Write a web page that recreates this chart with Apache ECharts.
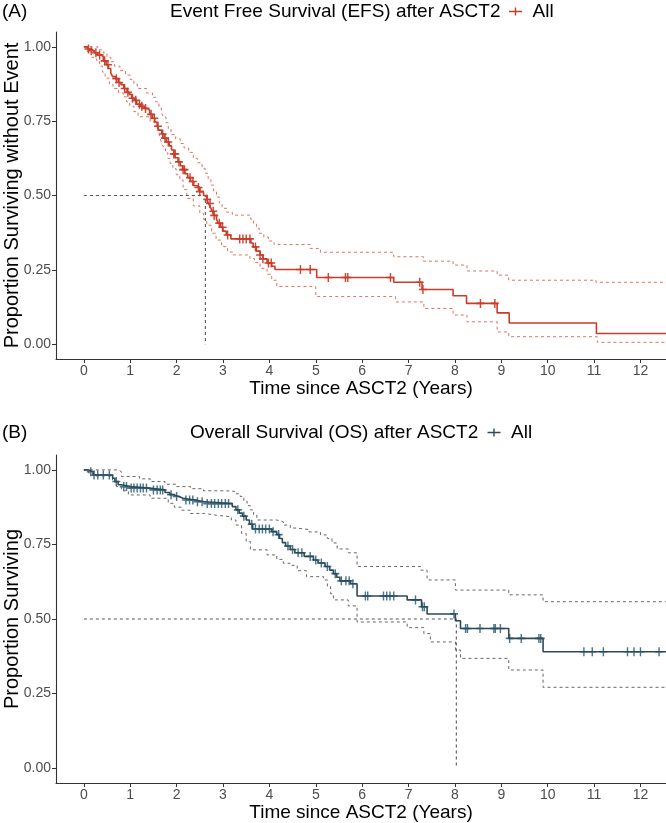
<!DOCTYPE html>
<html><head><meta charset="utf-8">
<script src="https://cdn.jsdelivr.net/npm/echarts@6/dist/echarts.min.js"></script>
<style>html,body{margin:0;padding:0;background:#fff}#c{width:666px;height:823px}</style>
</head><body><div id="c"></div>
<script>
const xTicks = [0,1,2,3,4,5,6,7,8,9,10,11,12];
const yTicks = [0,0.25,0.5,0.75,1];

// EFS (A)
const efsTime = [0,0.08,0.15,0.22,0.30,0.36,0.42,0.48,0.53,0.58,0.62,0.68,0.74,0.80,0.86,0.93,0.98,1.03,1.09,1.14,1.22,1.30,1.36,1.42,1.48,1.53,1.58,1.62,1.68,1.73,1.78,1.84,1.89,1.94,1.98,2.03,2.08,2.13,2.18,2.24,2.30,2.37,2.44,2.50,2.58,2.65,2.69,2.73,2.77,2.81,2.86,2.90,2.95,3.00,3.07,3.17,3.60,3.65,3.72,3.80,3.86,3.95,4.05,4.12,5.02,6.68,7.29,7.96,8.25,8.91,9.17,11.05,12.55];
const efsSurv = [1.000,0.993,0.987,0.980,0.973,0.967,0.953,0.940,0.927,0.913,0.900,0.893,0.880,0.873,0.860,0.847,0.840,0.827,0.820,0.807,0.800,0.793,0.787,0.773,0.760,0.747,0.733,0.720,0.707,0.693,0.680,0.667,0.653,0.640,0.627,0.613,0.600,0.587,0.573,0.560,0.547,0.533,0.527,0.513,0.500,0.487,0.473,0.460,0.447,0.433,0.420,0.407,0.393,0.380,0.367,0.354,0.340,0.327,0.313,0.300,0.287,0.273,0.262,0.251,0.224,0.208,0.184,0.163,0.137,0.105,0.071,0.036,0.036];
const efsUpperTime = [0,0.30,0.42,0.50,0.58,0.66,0.78,0.90,1.00,1.08,1.15,1.35,1.48,1.55,1.62,1.67,1.71,1.77,1.82,1.88,1.98,2.08,2.16,2.26,2.36,2.45,2.55,2.62,2.68,2.74,2.80,2.86,2.92,2.98,3.08,3.20,3.60,3.66,3.72,3.78,3.88,3.98,4.10,4.88,5.10,6.68,7.32,7.96,8.26,8.91,9.16,11.04,12.55];
const efsUpperVal = [1.0,0.99,0.98,0.965,0.95,0.935,0.92,0.905,0.89,0.875,0.86,0.845,0.83,0.815,0.795,0.78,0.765,0.745,0.725,0.705,0.69,0.675,0.66,0.645,0.625,0.61,0.59,0.575,0.555,0.535,0.515,0.495,0.475,0.457,0.444,0.434,0.42,0.405,0.39,0.373,0.36,0.347,0.335,0.322,0.309,0.294,0.279,0.266,0.246,0.232,0.215,0.208,0.208];
const efsLowerTime = [0,0.08,0.16,0.27,0.34,0.40,0.46,0.55,0.63,0.75,0.85,0.92,0.99,1.08,1.17,1.43,1.52,1.57,1.63,1.67,1.71,1.76,1.81,1.86,1.92,1.99,2.07,2.14,2.22,2.36,2.50,2.58,2.65,2.75,2.85,2.97,3.10,3.22,3.58,3.68,3.80,3.95,4.05,4.16,5.00,6.72,7.33,7.96,8.26,8.91,9.16,11.07,12.55];
const efsLowerVal = [1.0,0.98,0.965,0.955,0.935,0.915,0.895,0.875,0.86,0.845,0.832,0.815,0.80,0.782,0.765,0.748,0.735,0.72,0.70,0.68,0.664,0.645,0.625,0.608,0.59,0.57,0.552,0.52,0.49,0.465,0.44,0.42,0.40,0.373,0.35,0.328,0.31,0.30,0.288,0.275,0.255,0.235,0.215,0.194,0.160,0.142,0.120,0.098,0.075,0.041,0.025,0.006,0.006];
const efsCensor = [0.10,0.16,0.26,0.34,0.45,0.52,0.70,0.76,0.88,0.95,1.05,1.12,1.20,1.25,1.33,1.45,1.52,1.60,1.70,1.75,1.82,1.94,1.97,2.05,2.14,2.17,2.29,2.35,2.47,2.50,2.66,2.72,2.79,2.81,2.92,2.99,3.10,3.36,3.43,3.50,3.58,3.70,3.80,3.86,3.98,4.04,4.67,4.88,5.27,5.64,5.69,6.61,7.24,7.31,8.55,8.86];
const efsMedian = 2.62;

// OS (B)
const osTime = [0,0.10,0.20,0.62,0.67,0.74,0.81,1.00,1.40,1.75,1.85,1.93,2.05,2.14,2.40,2.60,3.20,3.28,3.35,3.42,3.50,3.57,3.64,4.05,4.16,4.22,4.28,4.35,4.45,4.55,4.75,4.95,5.05,5.20,5.30,5.38,5.45,5.52,5.75,5.89,6.97,7.28,7.40,8.01,8.12,9.16,9.90,12.55];
const osSurv = [1.000,0.994,0.983,0.972,0.961,0.950,0.944,0.939,0.933,0.924,0.917,0.911,0.905,0.899,0.893,0.887,0.877,0.866,0.855,0.845,0.832,0.818,0.802,0.793,0.783,0.770,0.756,0.745,0.733,0.722,0.710,0.698,0.688,0.676,0.664,0.652,0.640,0.628,0.618,0.577,0.564,0.541,0.517,0.494,0.468,0.435,0.390,0.390];
const osUpperTime = [0,0.74,0.81,1.20,1.43,1.75,2.00,2.30,2.58,3.08,3.25,3.37,3.45,3.52,3.59,3.66,3.73,4.16,4.30,4.45,4.59,4.85,5.10,5.25,5.35,5.46,5.70,5.89,7.26,7.40,8.01,9.16,9.90,12.55];
const osUpperVal = [1.0,0.994,0.978,0.97,0.961,0.952,0.944,0.937,0.93,0.928,0.92,0.911,0.895,0.88,0.866,0.85,0.832,0.826,0.815,0.805,0.80,0.792,0.782,0.77,0.755,0.735,0.722,0.676,0.664,0.631,0.597,0.581,0.558,0.558];
const osLowerTime = [0,0.10,0.20,0.62,0.70,0.81,0.96,1.43,1.82,1.95,2.10,2.29,2.60,2.86,3.18,3.28,3.40,3.50,3.59,3.95,4.16,4.30,4.45,4.60,4.80,5.17,5.25,5.32,5.38,5.70,5.89,6.97,7.33,7.47,8.01,8.12,9.16,9.90,12.55];
const osLowerVal = [1.0,0.99,0.98,0.96,0.944,0.93,0.916,0.905,0.888,0.875,0.865,0.854,0.848,0.843,0.832,0.815,0.787,0.76,0.732,0.715,0.70,0.687,0.68,0.662,0.642,0.631,0.61,0.585,0.564,0.544,0.49,0.471,0.451,0.423,0.396,0.368,0.329,0.271,0.271];
const osCensor = [0.15,0.22,0.30,0.42,0.55,0.70,0.86,0.92,1.02,1.08,1.15,1.22,1.28,1.35,1.50,1.58,1.65,1.70,1.88,2.00,2.20,2.28,2.35,2.45,2.55,2.66,2.75,2.82,2.90,2.97,3.05,3.12,3.32,3.45,3.62,3.70,3.78,3.85,3.92,4.00,4.08,4.20,4.40,4.50,4.62,4.70,4.88,5.00,5.12,5.25,5.42,5.55,5.65,5.72,5.80,6.07,6.12,6.46,6.53,6.60,6.68,7.15,7.30,7.34,7.98,8.23,8.27,8.54,8.84,8.87,8.98,9.18,9.43,9.81,9.85,10.78,10.96,11.20,11.72,11.86,12.00,12.40];
const osMedian = 8.03;

const FONT = "'Liberation Sans', Arial, sans-serif";
const RED = '#C83C2A', RED_CI = '#E4705E';
const NAVY = '#2E4A58', NAVY_MARK = '#3F6F86', GRAY_CI = '#666666';
const PLUS = 'path://M-0.9,-5H0.9V-0.9H5V0.9H0.9V5H-0.9V0.9H-5V-0.9H-0.9Z';
const LEG_ICON = 'path://M0,3.3H5.8V0H7.2V3.3H13V4.7H7.2V8H5.8V4.7H0Z';

function zip(a, b) { return a.map((t, i) => [t, b[i]]); }
function survAt(times, vals, t) {
  let v = vals[0];
  for (let i = 0; i < times.length; i++) { if (times[i] <= t) v = vals[i]; }
  return v;
}

function xAxis(idx) {
  return {
    gridIndex: idx, type: 'value', min: -0.6, max: 12.55,
    axisLine: { show: true, onZero: false, lineStyle: { color: '#333', width: 1.1 } },
    axisTick: { show: true, customValues: xTicks, length: 4, lineStyle: { color: '#333' } },
    axisLabel: { customValues: xTicks, color: '#4D4D4D', fontSize: 14, margin: 5, fontFamily: FONT },
    splitLine: { show: false },
    name: 'Time since ASCT2 (Years)', nameLocation: 'middle', nameGap: 20, nameMoveOverlap: false,
    nameTextStyle: { fontSize: 19, color: '#000', fontFamily: FONT }
  };
}
function yAxis(idx, name) {
  return {
    gridIndex: idx, type: 'value', min: -0.05, max: 1.05,
    axisLine: { show: true, onZero: false, lineStyle: { color: '#333', width: 1.1 } },
    axisTick: { show: true, customValues: yTicks, length: 4, lineStyle: { color: '#333' } },
    axisLabel: { customValues: yTicks, color: '#4D4D4D', fontSize: 14, margin: 5, fontFamily: FONT,
      formatter: v => v.toFixed(2) },
    splitLine: { show: false },
    name: name, nameLocation: 'middle', nameGap: 34, nameMoveOverlap: false,
    nameTextStyle: { fontSize: 20, color: '#000', fontFamily: FONT }
  };
}
function stepLine(idx, data, color, width, dashed) {
  return {
    type: 'line', xAxisIndex: idx, yAxisIndex: idx, data: data, step: 'end',
    showSymbol: false, symbol: 'none', silent: true, animation: false,
    lineStyle: { color: color, width: width, type: dashed ? [3, 3] : 'solid' }
  };
}
function medianLine(idx, med) {
  return {
    type: 'line', xAxisIndex: idx, yAxisIndex: idx, data: [[0, 0.5], [med, 0.5], [med, 0]],
    showSymbol: false, symbol: 'none', silent: true, animation: false,
    lineStyle: { color: '#555', width: 1.1, type: [3, 3] }
  };
}
function censor(idx, times, vals, cens, color, name) {
  return {
    type: 'scatter', name: name, xAxisIndex: idx, yAxisIndex: idx, animation: false,
    data: cens.map(t => [t, survAt(times, vals, t)]),
    symbol: PLUS, symbolSize: [8, 9], itemStyle: { color: color, opacity: 0.95 }
  };
}

const titleStyle = { fontSize: 19, fontWeight: 'normal', color: '#000', fontFamily: FONT };
const option = {
  backgroundColor: '#fff',
  animation: false,
  title: [
    { text: '(A)', left: 2, top: 2, padding: 0, textStyle: titleStyle },
    { text: 'Event Free Survival (EFS) after ASCT2', left: 170, top: 2, padding: 0, textStyle: titleStyle },
    { text: '(B)', left: 2, top: 423, padding: 0, textStyle: titleStyle },
    { text: 'Overall Survival (OS) after ASCT2', left: 190, top: 423, padding: 0, textStyle: titleStyle }
  ],
  legend: [
    { left: 509, top: 2, padding: 0, itemWidth: 24, itemHeight: 8, selectedMode: false,
      data: [{ name: 'All', icon: LEG_ICON, itemStyle: { color: RED } }],
      textStyle: { fontSize: 19, color: '#000', fontFamily: FONT } },
    { left: 487.5, top: 423, padding: 0, itemWidth: 24, itemHeight: 8, selectedMode: false,
      data: [{ name: 'All', icon: LEG_ICON, itemStyle: { color: NAVY } }],
      textStyle: { fontSize: 19, color: '#000', fontFamily: FONT } }
  ],
  grid: [
    { left: 56, top: 32, width: 610, height: 327, containLabel: false, outerBoundsMode: 'none' },
    { left: 56, top: 455, width: 610, height: 328, containLabel: false, outerBoundsMode: 'none' }
  ],
  xAxis: [xAxis(0), xAxis(1)],
  yAxis: [yAxis(0, 'Proportion Surviving without Event'), yAxis(1, 'Proportion Surviving')],
  series: [
    stepLine(0, zip(efsUpperTime, efsUpperVal), RED_CI, 1, true),
    stepLine(0, zip(efsLowerTime, efsLowerVal), RED_CI, 1, true),
    medianLine(0, efsMedian),
    Object.assign(stepLine(0, zip(efsTime, efsSurv), RED, 1.6, false), { name: 'All' }),
    censor(0, efsTime, efsSurv, efsCensor, RED, 'All'),
    stepLine(1, zip(osUpperTime, osUpperVal), GRAY_CI, 1, true),
    stepLine(1, zip(osLowerTime, osLowerVal), GRAY_CI, 1, true),
    medianLine(1, osMedian),
    Object.assign(stepLine(1, zip(osTime, osSurv), NAVY, 1.6, false), { name: 'All' }),
    censor(1, osTime, osSurv, osCensor, NAVY_MARK, 'All')
  ]
};
const chart = echarts.init(document.getElementById('c'), null, { renderer: 'canvas' });
chart.setOption(option);
</script></body></html>
